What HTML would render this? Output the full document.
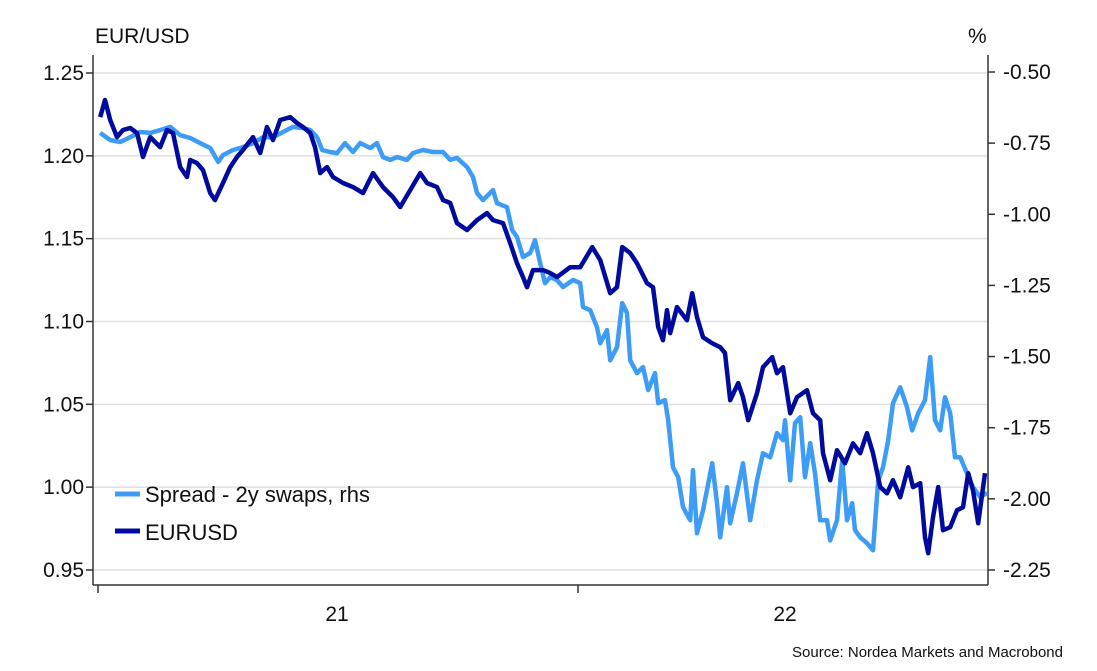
<!DOCTYPE html>
<html><head><meta charset="utf-8"><style>
html,body{margin:0;padding:0;background:#fff;}
svg{display:block;font-family:"Liberation Sans",sans-serif;}
</style></head><body>
<svg id="chart" width="1097" height="671" viewBox="0 0 1097 671">
<text x="95" y="43" font-size="21" fill="#111">EUR/USD</text>
<text x="968" y="43" font-size="21" fill="#111">%</text>
<g id="grid"></g>
<g id="yl"></g>
<g id="yr"></g>
<g id="xa"></g>
<g id="series"></g>
<g>
<g><line x1="115" y1="494" x2="140" y2="494" stroke="#3d9cf5" stroke-width="5"/><text x="145" y="502" font-size="22" fill="#111">Spread - 2y swaps, rhs</text></g>
<g><line x1="115" y1="531" x2="140" y2="531" stroke="#000b9e" stroke-width="5"/><text x="145" y="540" font-size="22" fill="#111">EURUSD</text></g>
</g>
<text x="1063" y="657" font-size="15" text-anchor="end" fill="#111">Source: Nordea Markets and Macrobond</text>
</svg>
<script>
const leftTicks=[1.25,1.20,1.15,1.10,1.05,1.00,0.95];
const leftTickLabels=["1.25","1.20","1.15","1.10","1.05","1.00","0.95"];
const rightTicks=[-0.5,-0.75,-1.0,-1.25,-1.5,-1.75,-2.0,-2.25];
const rightTickLabels=["-0.50","-0.75","-1.00","-1.25","-1.50","-1.75","-2.00","-2.25"];
const xTickMonths=[0,12];
const xLabelMonths=[6,17.2];
const xLabels=["21","22"];
// months since Jan 2021
const eurMonths=[0.08,0.2,0.33,0.5,0.65,0.83,1.0,1.15,1.33,1.58,1.75,1.9,2.08,2.25,2.33,2.5,2.65,2.83,2.95,3.15,3.33,3.5,3.65,3.9,4.08,4.25,4.4,4.58,4.83,5.0,5.15,5.33,5.45,5.58,5.75,5.9,6.15,6.4,6.65,6.9,7.15,7.4,7.58,7.83,8.08,8.25,8.5,8.65,8.83,9.0,9.25,9.5,9.75,9.9,10.15,10.33,10.5,10.65,10.75,10.9,11.15,11.33,11.5,11.83,12.08,12.38,12.58,12.83,13.0,13.13,13.33,13.5,13.75,13.9,14.03,14.15,14.25,14.33,14.5,14.75,14.88,15.0,15.15,15.38,15.58,15.7,15.83,16.03,16.15,16.28,16.5,16.65,16.88,17.0,17.15,17.33,17.5,17.75,17.9,18.08,18.15,18.33,18.5,18.7,18.9,19.08,19.25,19.4,19.58,19.75,19.9,20.08,20.28,20.4,20.58,20.7,20.78,20.9,21.03,21.15,21.33,21.5,21.65,21.78,21.9,22.03,22.2];
const eurValues=[1.2234,1.2337,1.2216,1.2113,1.2156,1.2168,1.2138,1.1993,1.2113,1.2053,1.2156,1.2138,1.1932,1.1872,1.1975,1.1956,1.1914,1.1775,1.1733,1.1836,1.1932,1.1993,1.2035,1.2113,1.2017,1.2174,1.2095,1.2216,1.2234,1.2198,1.2174,1.2138,1.2053,1.1896,1.1932,1.1872,1.1836,1.1811,1.1775,1.1896,1.1811,1.1751,1.1691,1.1793,1.1896,1.1836,1.1811,1.1733,1.1715,1.1594,1.1552,1.1612,1.1654,1.1612,1.1594,1.1473,1.1352,1.1268,1.1207,1.131,1.131,1.1292,1.1268,1.1328,1.1328,1.1449,1.1371,1.1171,1.1207,1.1449,1.1413,1.1352,1.1232,1.1207,1.0966,1.0887,1.1069,1.093,1.1087,1.1008,1.1171,1.1026,1.0905,1.0869,1.0845,1.0809,1.0525,1.0628,1.0543,1.0404,1.0567,1.0724,1.0785,1.0688,1.0724,1.0446,1.0543,1.0585,1.0446,1.0404,1.0205,1.0042,1.0223,1.0144,1.0265,1.0205,1.0326,1.0205,1.0,0.9963,1.0042,0.9939,1.012,1.0,1.0024,0.9697,0.9601,0.9818,1.0,0.974,0.9758,0.986,0.9879,1.0084,0.9981,0.9782,1.0084];
const spreadMonths=[0.08,0.33,0.58,0.83,1.08,1.33,1.58,1.83,2.08,2.33,2.58,2.83,3.03,3.15,3.4,3.65,3.9,4.15,4.4,4.65,4.9,5.15,5.33,5.5,5.63,5.83,6.0,6.2,6.4,6.58,6.83,7.0,7.15,7.33,7.5,7.75,7.9,8.15,8.4,8.65,8.83,9.0,9.25,9.4,9.5,9.65,9.9,10.0,10.25,10.38,10.5,10.65,10.83,10.95,11.08,11.2,11.33,11.5,11.65,11.9,12.08,12.15,12.33,12.5,12.58,12.75,12.83,13.0,13.13,13.25,13.33,13.5,13.65,13.78,13.95,14.03,14.2,14.28,14.4,14.53,14.65,14.83,14.9,15.0,15.15,15.38,15.5,15.58,15.75,15.83,16.0,16.15,16.33,16.5,16.65,16.83,17.0,17.15,17.2,17.33,17.45,17.58,17.7,17.83,17.95,18.08,18.25,18.33,18.5,18.63,18.75,18.88,18.95,19.08,19.25,19.4,19.53,19.65,19.78,19.9,20.08,20.25,20.38,20.53,20.7,20.83,20.95,21.08,21.2,21.33,21.45,21.58,21.75,21.9,22.08,22.25];
const spreadValues=[-0.714,-0.739,-0.746,-0.729,-0.711,-0.714,-0.704,-0.693,-0.722,-0.732,-0.75,-0.767,-0.816,-0.792,-0.774,-0.764,-0.75,-0.729,-0.729,-0.711,-0.693,-0.697,-0.704,-0.729,-0.774,-0.781,-0.785,-0.75,-0.781,-0.75,-0.767,-0.75,-0.799,-0.809,-0.799,-0.809,-0.785,-0.774,-0.781,-0.781,-0.809,-0.802,-0.834,-0.869,-0.925,-0.95,-0.915,-0.961,-0.975,-1.056,-1.08,-1.15,-1.136,-1.091,-1.172,-1.242,-1.221,-1.231,-1.256,-1.231,-1.242,-1.326,-1.337,-1.397,-1.453,-1.407,-1.513,-1.467,-1.312,-1.347,-1.513,-1.558,-1.537,-1.618,-1.558,-1.664,-1.653,-1.724,-1.889,-1.924,-2.029,-2.075,-1.899,-2.121,-2.04,-1.875,-2.015,-2.135,-1.959,-2.086,-1.98,-1.875,-2.075,-1.935,-1.84,-1.854,-1.769,-1.794,-1.724,-1.935,-1.734,-1.713,-1.924,-1.804,-1.91,-2.075,-2.075,-2.146,-2.075,-1.864,-2.075,-2.015,-2.11,-2.135,-2.156,-2.181,-1.935,-1.889,-1.794,-1.664,-1.608,-1.678,-1.759,-1.699,-1.653,-1.502,-1.724,-1.759,-1.643,-1.699,-1.854,-1.854,-1.91,-1.959,-1.994,-1.98];

const NS="http://www.w3.org/2000/svg";
const L=93,R=988,T=55,B=585;
const xS=m=>97+m*40;
const yL=v=>73+(1.25-v)/0.05*82.83;
const yR=v=>72+(-0.5-v)/0.25*71.14;
function mk(tag,attrs,parent){const e=document.createElementNS(NS,tag);for(const k in attrs)e.setAttribute(k,attrs[k]);parent.appendChild(e);return e;}
const grid=document.getElementById('grid'),yl=document.getElementById('yl'),yr=document.getElementById('yr'),xa=document.getElementById('xa'),ser=document.getElementById('series');
leftTicks.forEach((v,i)=>{
  const y=yL(v);
  const g=mk('line',{x1:L,x2:R,y1:y,y2:y,stroke:'#e0e0e0','stroke-width':1.5},grid);
  
  
  mk('line',{x1:L-7,x2:L,y1:y,y2:y,stroke:'#333','stroke-width':1.5},yl);
  const t=mk('text',{x:L-9,y:y+7,'font-size':21,'text-anchor':'end',fill:'#111'},yl);
  t.textContent=leftTickLabels[i];
  
  
});
rightTicks.forEach((v,i)=>{
  const y=yR(v);
  mk('line',{x1:R,x2:R+7,y1:y,y2:y,stroke:'#333','stroke-width':1.5},yr);
  const t=mk('text',{x:R+15,y:y+7,'font-size':21,fill:'#111'},yr);
  t.textContent=rightTickLabels[i];
  
  
});
mk('line',{x1:L,x2:L,y1:T,y2:B,stroke:'#333','stroke-width':1.5},yl);
mk('line',{x1:R,x2:R,y1:T,y2:B,stroke:'#333','stroke-width':1.5},yr);
mk('line',{x1:L,x2:R,y1:B,y2:B,stroke:'#333','stroke-width':1.5},xa);
xTickMonths.forEach(m=>{mk('line',{x1:xS(m)+1,x2:xS(m)+1,y1:B,y2:B+8,stroke:'#333','stroke-width':1.5},xa);});
xLabelMonths.forEach((m,i)=>{
  const t=mk('text',{x:xS(m),y:621,'font-size':21,'text-anchor':'middle',fill:'#111'},xa);
  t.textContent=xLabels[i];
  
  
});
function path(ms,vs,ys){return ms.map((m,i)=>(i?'L':'M')+xS(m).toFixed(1)+','+ys(vs[i]).toFixed(1)).join('');}
const p1=mk('path',{d:path(spreadMonths,spreadValues,yR),fill:'none',stroke:'#3d9cf5','stroke-width':4.5,'stroke-linejoin':'round'},ser);


const p2=mk('path',{d:path(eurMonths,eurValues,yL),fill:'none',stroke:'#000b9e','stroke-width':4.5,'stroke-linejoin':'round'},ser);


</script>
</body></html>
